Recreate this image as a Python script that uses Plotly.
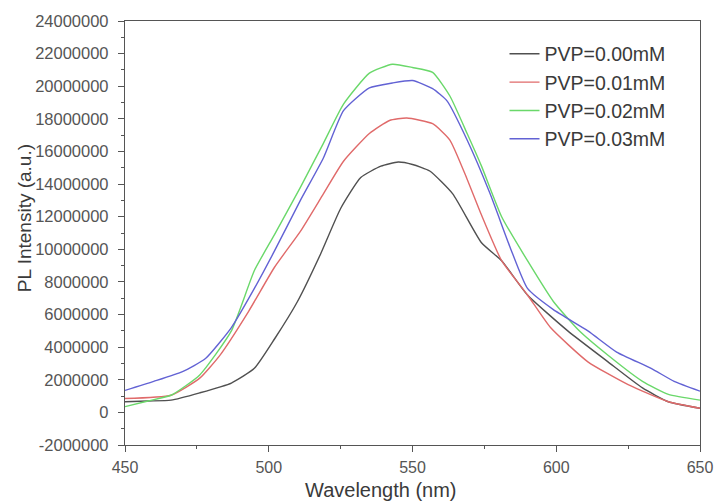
import plotly.graph_objects as go

# Wavelength (nm) and intensity (a.u.)
wl_000 = [450, 458, 466, 476, 487, 495, 502, 510, 518, 525, 532, 539, 545, 550, 556, 564, 574, 581, 590, 604, 618, 630, 639, 650]
pl_000 = [650000, 700000, 750000, 1200000, 1800000, 2700000, 4500000, 6800000, 9700000, 12500000, 14400000, 15100000, 15350000, 15200000, 14800000, 13400000, 10400000, 9300000, 7200000, 5000000, 3100000, 1500000, 650000, 250000]

wl_001 = [450, 466, 476, 483, 493, 502, 511, 519, 526, 535, 542, 548, 557, 563, 569, 574, 581, 590, 598, 611, 625, 639, 650]
pl_001 = [850000, 1050000, 2100000, 3500000, 6200000, 8900000, 11100000, 13400000, 15400000, 17100000, 17900000, 18050000, 17700000, 16700000, 14300000, 12100000, 9300000, 7200000, 5200000, 3100000, 1700000, 650000, 250000]

wl_002 = [450, 458, 466, 476, 487, 495, 502, 511, 519, 526, 535, 543, 550, 557, 563, 569, 574, 581, 590, 599, 608, 618, 630, 639, 650]
pl_002 = [350000, 700000, 1050000, 2300000, 5000000, 8700000, 10900000, 13800000, 16500000, 18900000, 20800000, 21350000, 21150000, 20850000, 19400000, 17100000, 15100000, 12000000, 9300000, 6800000, 5000000, 3500000, 1900000, 1100000, 750000]

wl_003 = [450, 460, 470, 478, 487, 495, 502, 511, 519, 526, 535, 543, 550, 557, 562, 569, 577, 584, 590, 599, 611, 621, 633, 641, 650]
pl_003 = [1350000, 1900000, 2500000, 3300000, 5200000, 7600000, 9900000, 13000000, 15600000, 18500000, 19900000, 20200000, 20350000, 19850000, 19100000, 16700000, 13400000, 10100000, 7600000, 6300000, 5000000, 3700000, 2700000, 1900000, 1300000]

series_names = ["PVP=0.00mM", "PVP=0.01mM", "PVP=0.02mM", "PVP=0.03mM"]
series_x = [wl_000, wl_001, wl_002, wl_003]
series_y = [pl_000, pl_001, pl_002, pl_003]
colors = ["#505050", "#e06a6a", "#6ad86a", "#6262d4"]

y_tickvals = list(range(-2000000, 24000001, 2000000))
y_ticktext = [str(v) for v in y_tickvals]
x_tickvals = [450, 500, 550, 600, 650]
x_title = "Wavelength (nm)"
y_title = "PL Intensity (a.u.)"

fig = go.Figure()
for name, xs, ys, c in zip(series_names, series_x, series_y, colors):
    fig.add_trace(go.Scatter(x=xs, y=ys, mode="lines", name=name,
                             line=dict(color=c, width=1.4, shape="spline", smoothing=0.5)))

font_family = "Liberation Sans, Arial, sans-serif"
axis_common = dict(ticks="outside", ticklen=6, showgrid=False, zeroline=False,
                   showline=True, mirror=True, linecolor="#555555", linewidth=1.3,
                   tickcolor="#555555", tickwidth=1.2, automargin=False)

fig.update_layout(
    width=715, height=502,
    margin=dict(l=125, r=15, t=21, b=57),
    paper_bgcolor="white", plot_bgcolor="white",
    font=dict(family=font_family, color="#555555", size=16),
    showlegend=True,
    legend=dict(x=0.66, y=0.968, xanchor="left", yanchor="top",
                bgcolor="rgba(0,0,0,0)", font=dict(size=19.5, color="#3a3a3a"),
                tracegroupgap=0),
    xaxis=dict(range=[450, 650], tickvals=x_tickvals,
               tickfont=dict(size=16, color="#555555"), ticklabelstandoff=2,
               minor=dict(ticks="outside", ticklen=3, dtick=25, tickcolor="#555555"),
               **axis_common),
    yaxis=dict(range=[-2000000, 24000000], tickvals=y_tickvals, ticktext=y_ticktext,
               tickfont=dict(size=16.5, color="#555555"), ticklabelstandoff=6,
               minor=dict(ticks="outside", ticklen=3, dtick=1000000, tickcolor="#555555"),
               **axis_common),
    annotations=[
        dict(text=x_title, xref="paper", yref="paper", x=0.445, y=0, yshift=-45,
             xanchor="center", yanchor="middle", showarrow=False,
             font=dict(size=20, color="#3a3a3a")),
        dict(text=y_title, xref="paper", yref="paper", x=0, xshift=-101, y=0.535,
             xanchor="center", yanchor="middle", showarrow=False, textangle=-90,
             font=dict(size=19, color="#3a3a3a")),
    ],
)

fig.write_html("out.html", config={"displayModeBar": False},
               post_script="document.body.style.margin='0px';document.body.style.overflow='hidden';")
